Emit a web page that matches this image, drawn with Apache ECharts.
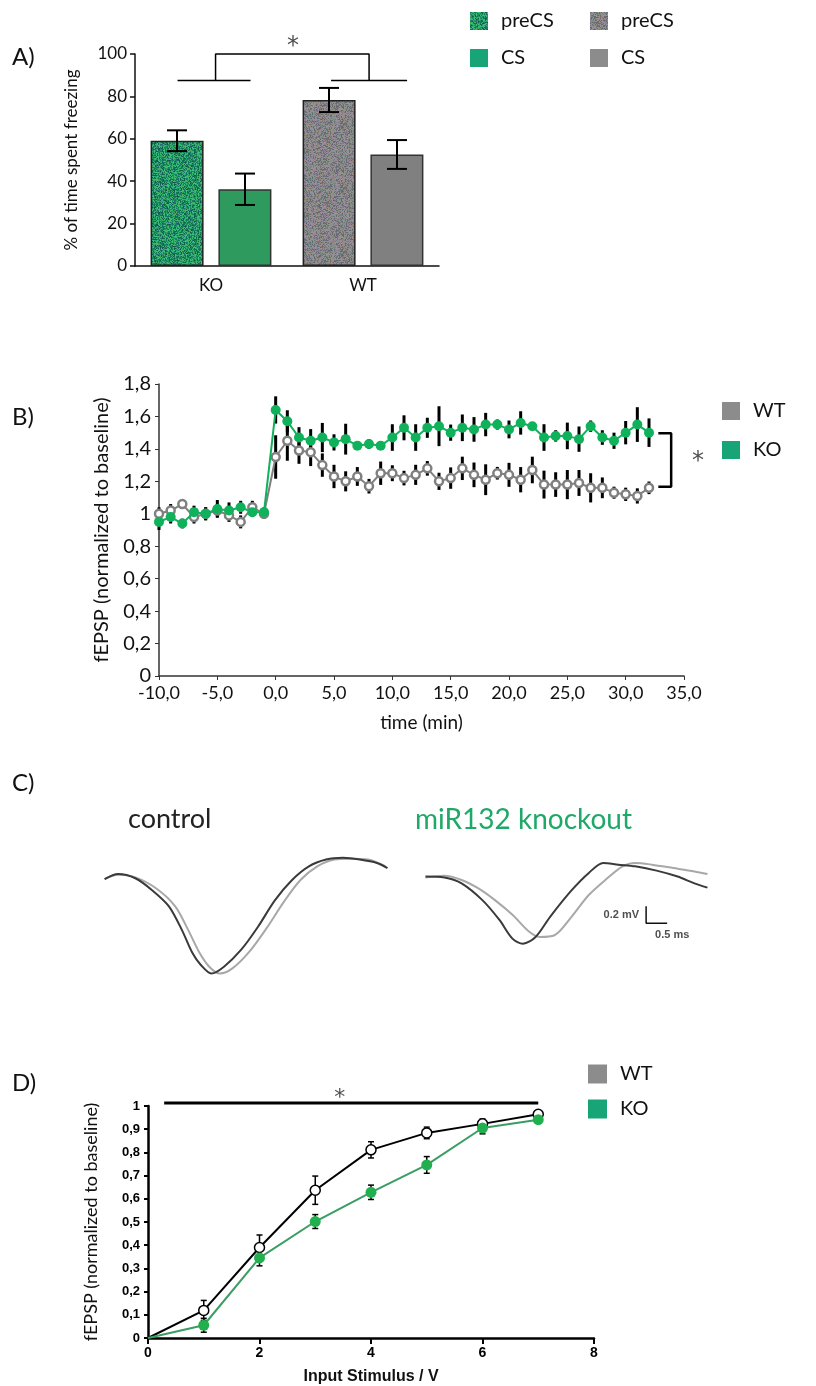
<!DOCTYPE html>
<html>
<head>
<meta charset="utf-8">
<script src="https://cdn.jsdelivr.net/npm/echarts@6/dist/echarts.min.js"></script>
<style>
html, body { margin: 0; padding: 0; background: #fff; }
#app { width: 816px; height: 1386px; }
</style>
</head>
<body>
<div id="app"></div>
<script>
// A) freezing
var groupsA = ['KO', 'WT']
var preCS = [59.1, 78.3]
var preCSErr = [4.9, 5.7]
var cs = [36.2, 52.6]
var csErr = [7.4, 6.8]

// B) LTP time course
var timesB = [-10, -9, -8, -7, -6, -5, -4, -3, -2, -1,
    0, 1, 2, 3, 4, 5, 6, 7, 8, 9, 10, 11, 12, 13, 14, 15, 16, 17, 18, 19, 20,
    21, 22, 23, 24, 25, 26, 27, 28, 29, 30, 31, 32]
var koB = [0.95, 0.98, 0.94, 1.01, 1.00, 1.03, 1.02, 1.04, 1.01, 1.01,
    1.64, 1.57, 1.47, 1.45, 1.47, 1.44, 1.46, 1.42, 1.43, 1.42, 1.47,
    1.53, 1.47, 1.53, 1.54, 1.50, 1.53, 1.52, 1.55, 1.55, 1.52,
    1.56, 1.54, 1.47, 1.48, 1.48, 1.46, 1.54, 1.47, 1.45, 1.50, 1.55, 1.50]
var koBErr = [0.05, 0.04, 0.03, 0.04, 0.04, 0.055, 0.05, 0.04, 0.03, 0.03,
    0.084, 0.068, 0.064, 0.072, 0.09, 0.05, 0.095, 0.02, 0.03, 0.02, 0.082,
    0.077, 0.082, 0.062, 0.123, 0.05, 0.082, 0.076, 0.072, 0.031, 0.055,
    0.072, 0.025, 0.082, 0.035, 0.082, 0.078, 0.035, 0.045, 0.05, 0.072, 0.107, 0.088]
var wtB = [1.00, 1.02, 1.06, 0.98, 1.00, 1.02, 0.99, 0.95, 1.04, 1.00,
    1.35, 1.45, 1.39, 1.38, 1.30, 1.23, 1.20, 1.23, 1.17, 1.25, 1.25,
    1.22, 1.24, 1.28, 1.20, 1.22, 1.28, 1.24, 1.21, 1.25, 1.24,
    1.21, 1.27, 1.18, 1.18, 1.18, 1.19, 1.16, 1.16, 1.13, 1.12, 1.11, 1.16]
var wtBErr = [0.04, 0.04, 0.03, 0.04, 0.04, 0.04, 0.04, 0.04, 0.04, 0.03,
    0.134, 0.123, 0.082, 0.086, 0.072, 0.072, 0.062, 0.058, 0.045, 0.072, 0.049,
    0.045, 0.062, 0.045, 0.053, 0.066, 0.072, 0.076, 0.095, 0.039, 0.074,
    0.078, 0.082, 0.086, 0.076, 0.09, 0.08, 0.09, 0.064, 0.037, 0.041, 0.047, 0.039]

// C) example traces, [ms, mV]
var ctrlDark = [[0.11, 0.01], [0.43, 0.07], [0.84, 0.02], [1.24, -0.12], [1.64, -0.31], [1.95, -0.59],
    [2.2, -0.86], [2.4, -1.0], [2.65, -1.1], [2.95, -1.02], [3.36, -0.82], [3.76, -0.55], [4.16, -0.24],
    [4.57, 0.0], [4.97, 0.16], [5.38, 0.24], [5.78, 0.26], [6.18, 0.24], [6.59, 0.2], [6.84, 0.14]]
var ctrlLight = [[0.11, 0.01], [0.43, 0.06], [0.84, 0.03], [1.34, -0.1], [1.79, -0.31], [2.1, -0.59],
    [2.35, -0.84], [2.6, -1.02], [2.85, -1.1], [3.15, -1.04], [3.56, -0.84], [3.96, -0.57], [4.37, -0.26],
    [4.77, 0.0], [5.17, 0.16], [5.58, 0.24], [5.98, 0.25], [6.38, 0.24], [6.79, 0.16]]
var koDark = [[0.13, 0.04], [0.58, 0.03], [0.99, -0.04], [1.49, -0.24], [1.89, -0.47], [2.2, -0.69],
    [2.45, -0.75], [2.75, -0.67], [3.1, -0.43], [3.61, -0.12], [4.01, 0.08], [4.36, 0.2], [4.72, 0.18],
    [5.12, 0.16], [5.63, 0.11], [6.13, 0.04], [6.53, -0.04], [6.84, -0.09]]
var koLight = [[0.13, 0.03], [0.58, 0.05], [0.99, 0.0], [1.39, -0.1], [1.79, -0.24], [2.2, -0.41],
    [2.6, -0.61], [2.85, -0.67], [3.2, -0.65], [3.61, -0.43], [4.01, -0.18], [4.41, 0.0], [4.82, 0.16],
    [5.12, 0.2], [5.52, 0.18], [6.03, 0.14], [6.53, 0.1], [6.84, 0.07]]
var scaleBar = [[5.38, -0.31], [5.38, -0.51], [5.88, -0.51]]

// D) input-output
var stimD = [0, 1, 2, 3, 4, 5, 6, 7]
var wtD = [0, 0.119, 0.39, 0.637, 0.811, 0.884, 0.923, 0.964]
var wtDErr = [0, 0.043, 0.054, 0.061, 0.035, 0.025, 0.021, 0.01]
var koD = [0, 0.055, 0.345, 0.502, 0.628, 0.746, 0.905, 0.941]
var koDErr = [0, 0.03, 0.034, 0.03, 0.031, 0.036, 0.025, 0.01]

var FONT = 'Lato'
var green = '#0fb15a'
var grey = '#808080'

// speckled fill like the original print
function speckle(palette, seed) {
    var c = document.createElement('canvas')
    c.width = 64
    c.height = 64
    var ctx = c.getContext('2d')
    var h = seed
    for (var y = 0; y < 64; y++) {
        for (var x = 0; x < 64; x++) {
            h = (h * 1103515245 + 12345) & 0x7fffffff
            ctx.fillStyle = palette[(h >> 16) % palette.length]
            ctx.fillRect(x, y, 1, 1)
        }
    }
    return {image: c, repeat: 'repeat'}
}
var greenTex = speckle(['#1e9a5e', '#2db872', '#127a52', '#3fc07e', '#23706e', '#4aa860', '#1a8a6a', '#0e5e4a'], 7)
var greyTex = speckle(['#8a7f8f', '#6f7a86', '#9a8a7a', '#7f907f', '#a08aa0', '#707070', '#949494', '#5f6a70'], 11)

var chart = echarts.init(document.getElementById('app'))

function errBar(p, api, opt) {
    var x = api.value(0), y = api.value(1), e = api.value(2)
    var hi = api.coord([x, y + e])
    var lo = api.coord([x, y - e])
    var cx = hi[0] + (opt.off ? api.value(3) * opt.off : 0)
    var st = {stroke: '#000', lineWidth: opt.w}
    var kids = [{type: 'line', shape: {x1: cx, y1: hi[1], x2: cx, y2: lo[1]}, style: st}]
    if (opt.cap) {
        kids.push({type: 'line', shape: {x1: cx - opt.cap, y1: hi[1], x2: cx + opt.cap, y2: hi[1]}, style: st})
        kids.push({type: 'line', shape: {x1: cx - opt.cap, y1: lo[1], x2: cx + opt.cap, y2: lo[1]}, style: st})
    }
    return {type: 'group', children: kids}
}

function seg(pts, xi, yi, w) {
    return {
        type: 'line', xAxisIndex: xi, yAxisIndex: yi, data: pts, symbol: 'none',
        clip: false, silent: true, lineStyle: {color: '#000', width: w}, z: 6
    }
}

function star(pt, xi, yi, size) {
    return {
        type: 'scatter', xAxisIndex: xi, yAxisIndex: yi, data: [pt], symbolSize: 0, clip: false,
        label: {show: true, formatter: '*', position: 'inside', fontFamily: 'DejaVu Sans', fontSize: size, color: '#222'}
    }
}

var decB = v => {
    var r = Math.round(v * 10) / 10
    return Number.isInteger(r) ? String(r) : String(r).replace('.', ',')
}

function legendCol(left, top, gap, size, items) {
    return {
        left: left, top: top, orient: 'vertical', itemWidth: size, itemHeight: size, itemGap: gap,
        textStyle: {fontFamily: FONT, fontSize: 20, color: '#111', padding: [0, 0, 0, 8]}, formatter: n => n.trim(),
        data: items.map(it => ({name: it[0], icon: 'rect', itemStyle: {color: it[1], borderWidth: 0}}))
    }
}

var option = {
    animation: false,
    grid: [
        {left: 135, top: 54, width: 304, height: 212},
        {left: 159, top: 384, width: 525, height: 292},
        {left: 100, top: 840, width: 290, height: 150},
        {left: 420, top: 840, width: 290, height: 150},
        {left: 148, top: 1106, width: 446, height: 238}
    ],
    xAxis: [
        {
            type: 'category', gridIndex: 0, data: groupsA,
            axisLine: {lineStyle: {color: '#111', width: 1.5}},
            axisTick: {length: 6, lineStyle: {color: '#111', width: 1.5}},
            axisLabel: {fontFamily: FONT, fontSize: 17, color: '#111', margin: 11}
        },
        {type: 'value', gridIndex: 0, min: 0, max: 2, show: false},
        {
            type: 'value', gridIndex: 1, min: -10, max: 35, interval: 5,
            name: 'time (min)', nameLocation: 'middle', nameGap: 37,
            nameTextStyle: {fontFamily: FONT, fontSize: 19, color: '#111'},
            splitLine: {show: false},
            axisLine: {onZero: false, lineStyle: {color: '#333', width: 1.5}},
            axisTick: {length: 4, lineStyle: {color: '#333'}},
            axisLabel: {fontFamily: FONT, fontSize: 18, color: '#111', margin: 8,
                formatter: v => v.toFixed(1).replace('.', ',')}
        },
        {type: 'value', gridIndex: 2, min: 0, max: 6.9, show: false},
        {type: 'value', gridIndex: 3, min: 0, max: 6.9, show: false},
        {
            type: 'value', gridIndex: 4, min: 0, max: 8, interval: 2,
            name: 'Input Stimulus / V', nameLocation: 'middle', nameGap: 31,
            nameTextStyle: {fontFamily: 'Liberation Sans', fontWeight: 'bold', fontSize: 16, color: '#111'},
            splitLine: {show: false},
            axisLine: {lineStyle: {color: '#000', width: 2.5}},
            axisTick: {length: 6, lineStyle: {color: '#000', width: 2}},
            axisLabel: {fontFamily: 'Liberation Sans', fontWeight: 'bold', fontSize: 14, color: '#000', margin: 8}
        }
    ],
    yAxis: [
        {
            type: 'value', gridIndex: 0, min: 0, max: 100, interval: 20,
            name: '% of time spent freezing', nameLocation: 'middle', nameGap: 55,
            nameTextStyle: {fontFamily: FONT, fontSize: 17, color: '#111'},
            splitLine: {show: false},
            axisLine: {show: true, lineStyle: {color: '#111', width: 1.5}},
            axisTick: {show: true, length: 5, lineStyle: {color: '#111', width: 1.5}},
            axisLabel: {fontFamily: FONT, fontSize: 17, color: '#111', margin: 8}
        },
        {
            type: 'value', gridIndex: 1, min: 0, max: 1.8, interval: 0.2,
            name: 'fEPSP (normalized to baseline)', nameLocation: 'middle', nameGap: 47,
            nameTextStyle: {fontFamily: FONT, fontSize: 20, color: '#111'},
            splitLine: {show: false},
            axisLine: {show: true, onZero: false, lineStyle: {color: '#333', width: 1.5}},
            axisTick: {show: true, length: 4, lineStyle: {color: '#333'}},
            axisLabel: {fontFamily: FONT, fontSize: 20, color: '#111', margin: 8, formatter: decB}
        },
        {type: 'value', gridIndex: 2, min: -1.294, max: 0.47, show: false},
        {type: 'value', gridIndex: 3, min: -1.294, max: 0.47, show: false},
        {
            type: 'value', gridIndex: 4, min: 0, max: 1, interval: 0.1,
            name: 'fEPSP (normalized to baseline)', nameLocation: 'middle', nameGap: 48,
            nameTextStyle: {fontFamily: FONT, fontSize: 18, color: '#111'},
            splitLine: {show: false},
            axisLine: {show: true, lineStyle: {color: '#000', width: 2.5}},
            axisTick: {show: true, length: 4, lineStyle: {color: '#000', width: 2}},
            axisLabel: {fontFamily: 'Liberation Sans', fontWeight: 'bold', fontSize: 13, color: '#000', margin: 8,
                formatter: v => decB(v)}
        }
    ],
    legend: [
        legendCol(465, 6, 17, 18, [['preCS', greenTex], ['CS', '#17a577']]),
        legendCol(585, 6, 17, 18, [['preCS ', greyTex], ['CS ', '#8c8c8c']]),
        legendCol(717, 396, 19, 18, [['WT', '#8c8c8c'], ['KO', '#17a577']]),
        legendCol(583, 1059, 15, 19, [['WT ', '#8c8c8c'], ['KO ', '#17a577']])
    ],
    graphic: [
        {type: 'text', left: 12, top: 45, style: {text: 'A)', font: '24px Lato', fill: '#111'}},
        {type: 'text', left: 12, top: 405, style: {text: 'B)', font: '24px Lato', fill: '#111'}},
        {type: 'text', left: 12, top: 771, style: {text: 'C)', font: '24px Lato', fill: '#111'}},
        {type: 'text', left: 12, top: 1071, style: {text: 'D)', font: '24px Lato', fill: '#111'}},
        {type: 'text', left: 128, top: 806, style: {text: 'control', font: '27px Lato', fill: '#222'}},
        {type: 'text', left: 415, top: 806, style: {text: 'miR132 knockout', font: '28px Lato', fill: '#1fa868'}}
    ],
    series: [
        // A bars
        {type: 'bar', name: 'preCS', stack: 'pre', xAxisIndex: 0, yAxisIndex: 0, barWidth: 53, barGap: '28%',
            data: [preCS[0], '-'], itemStyle: {color: greenTex, borderColor: '#222', borderWidth: 1.5}},
        {type: 'bar', name: 'preCS ', stack: 'pre', xAxisIndex: 0, yAxisIndex: 0,
            data: ['-', preCS[1]], itemStyle: {color: greyTex, borderColor: '#222', borderWidth: 1.5}},
        {type: 'bar', name: 'CS', stack: 'cs', xAxisIndex: 0, yAxisIndex: 0, barWidth: 53,
            data: [cs[0], '-'], itemStyle: {color: '#2e9a5e', borderColor: '#333', borderWidth: 1.5}},
        {type: 'bar', name: 'CS ', stack: 'cs', xAxisIndex: 0, yAxisIndex: 0,
            data: ['-', cs[1]], itemStyle: {color: '#808080', borderColor: '#333', borderWidth: 1.5}},
        {type: 'custom', xAxisIndex: 0, yAxisIndex: 0, z: 5, encode: {x: 0, y: 1},
            data: groupsA.map((g, i) => [i, preCS[i], preCSErr[i], -1]).concat(groupsA.map((g, i) => [i, cs[i], csErr[i], 1])),
            renderItem: (p, api) => errBar(p, api, {off: 34, w: 2, cap: 10})},
        seg([[0.28, 87.5], [0.76, 87.5]], 1, 0, 1.5),
        seg([[1.29, 87.5], [1.79, 87.5]], 1, 0, 1.5),
        seg([[0.53, 87.5], [0.53, 100], [1.54, 100], [1.54, 87.5]], 1, 0, 1.5),
        star([1.04, 103.5], 1, 0, 24),

        // B
        {type: 'custom', xAxisIndex: 2, yAxisIndex: 1, z: 2, encode: {x: 0, y: 1},
            data: timesB.map((t, i) => [t, wtB[i], wtBErr[i]]),
            renderItem: (p, api) => errBar(p, api, {w: 3})},
        {type: 'custom', xAxisIndex: 2, yAxisIndex: 1, z: 2, encode: {x: 0, y: 1},
            data: timesB.map((t, i) => [t, koB[i], koBErr[i]]),
            renderItem: (p, api) => errBar(p, api, {w: 3})},
        {type: 'line', name: 'WT', xAxisIndex: 2, yAxisIndex: 1, z: 3,
            data: timesB.map((t, i) => [t, wtB[i]]),
            symbol: 'circle', symbolSize: 8,
            lineStyle: {color: grey, width: 2},
            itemStyle: {color: '#fff', borderColor: grey, borderWidth: 2.5}},
        {type: 'line', name: 'KO', xAxisIndex: 2, yAxisIndex: 1, z: 4,
            data: timesB.map((t, i) => [t, koB[i]]),
            symbol: 'circle', symbolSize: 10,
            lineStyle: {color: green, width: 2},
            itemStyle: {color: green}},
        seg([[32.8, 1.496], [33.9, 1.496], [33.9, 1.167], [32.8, 1.167]], 2, 1, 2.5),
        star([36.2, 1.32], 2, 1, 24),

        // C
        {type: 'line', xAxisIndex: 3, yAxisIndex: 2, data: ctrlLight, symbol: 'none', smooth: 0.3,
            lineStyle: {color: '#a8a8a8', width: 2}},
        {type: 'line', xAxisIndex: 3, yAxisIndex: 2, data: ctrlDark, symbol: 'none', smooth: 0.3,
            lineStyle: {color: '#3a3a3a', width: 2}},
        {type: 'line', xAxisIndex: 4, yAxisIndex: 3, data: koLight, symbol: 'none', smooth: 0.3,
            lineStyle: {color: '#a8a8a8', width: 2}},
        {type: 'line', xAxisIndex: 4, yAxisIndex: 3, data: koDark, symbol: 'none', smooth: 0.3,
            lineStyle: {color: '#3a3a3a', width: 2}},
        {type: 'line', xAxisIndex: 4, yAxisIndex: 3, data: scaleBar, symbol: 'none', clip: false,
            lineStyle: {color: '#111', width: 1.5}},
        {type: 'scatter', xAxisIndex: 4, yAxisIndex: 3, symbolSize: 0, clip: false,
            data: [
                {value: [5.33, -0.41], label: {formatter: '0.2 mV', position: 'left'}},
                {value: [6.0, -0.51], label: {formatter: '0.5 ms', position: 'bottom', distance: 6}}
            ],
            label: {show: true, fontFamily: 'Liberation Sans', fontWeight: 'bold', fontSize: 11, color: '#222'}},

        // D
        {type: 'custom', xAxisIndex: 5, yAxisIndex: 4, z: 2, encode: {x: 0, y: 1},
            data: stimD.slice(1).map((s, i) => [s, wtD[i + 1], wtDErr[i + 1]]),
            renderItem: (p, api) => errBar(p, api, {w: 1.5, cap: 3})},
        {type: 'custom', xAxisIndex: 5, yAxisIndex: 4, z: 2, encode: {x: 0, y: 1},
            data: stimD.slice(1).map((s, i) => [s, koD[i + 1], koDErr[i + 1]]),
            renderItem: (p, api) => errBar(p, api, {w: 1.5, cap: 3})},
        {type: 'line', name: 'WT ', xAxisIndex: 5, yAxisIndex: 4, z: 3,
            data: stimD.map((s, i) => ({value: [s, wtD[i]], symbolSize: i === 0 ? 0 : 10})),
            symbol: 'circle',
            lineStyle: {color: '#000', width: 2},
            itemStyle: {color: '#fff', borderColor: '#000', borderWidth: 1.5}},
        {type: 'line', name: 'KO ', xAxisIndex: 5, yAxisIndex: 4, z: 4,
            data: stimD.map((s, i) => ({value: [s, koD[i]], symbolSize: i === 0 ? 0 : 11})),
            symbol: 'circle',
            lineStyle: {color: '#3a9d63', width: 2},
            itemStyle: {color: '#22b04e'}},
        seg([[0.29, 1.013], [7, 1.013]], 5, 4, 3),
        star([3.44, 1.032], 5, 4, 22)
    ]
}

chart.setOption(option)
</script>
</body>
</html>
